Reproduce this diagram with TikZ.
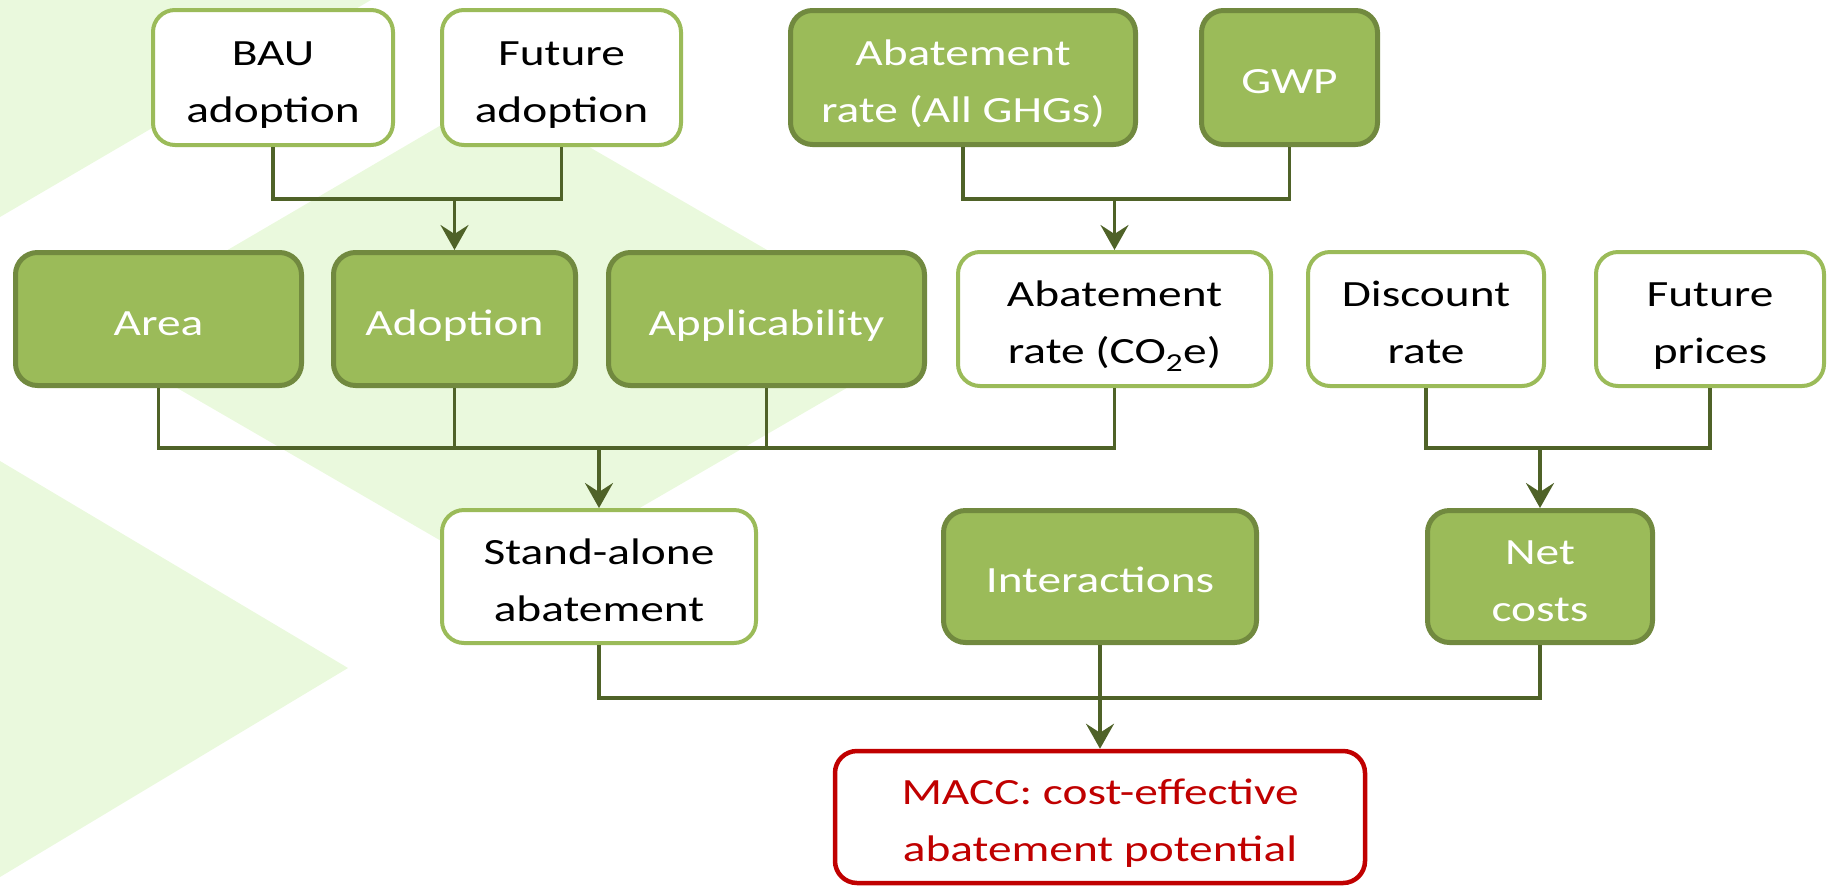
\documentclass[tikz,border=0pt]{standalone}
\usepackage{fontspec}
\setmainfont{Carlito}[FakeStretch=1.28]
\usetikzlibrary{arrows.meta}
\definecolor{bgg}{RGB}{234,249,221}
\definecolor{fgreen}{RGB}{155,187,89}
\definecolor{dborder}{RGB}{113,137,63}
\definecolor{lborder}{RGB}{155,187,89}
\definecolor{conng}{RGB}{79,98,40}
\definecolor{redc}{RGB}{192,0,0}
\newcommand\mystrut{\rule[-8pt]{0pt}{48pt}}
\begin{document}
\begin{tikzpicture}[x=1pt,y=-1pt,
  every node/.style={font=\fontsize{37}{57}\selectfont, align=center, inner sep=0pt, rounded corners=22pt},
  lbox/.style={draw=lborder, line width=4pt, fill=white, text=black},
  dbox/.style={draw=dborder, line width=5pt, fill=fgreen, text=white},
  rbox/.style={draw=redc, line width=4.5pt, fill=white, text=redc},
  conn/.style={draw=conng, line width=3.5pt},
  arr/.style={conn, -{Stealth[length=25pt,width=28pt,inset=9pt]}}]
\useasboundingbox (0,0) rectangle (1829,887);
% background shapes
\fill[bgg] (0,0) -- (371,0) -- (0,217) -- cycle;
\fill[bgg] (84,334) -- (496,93) -- (926,342) -- (512,582) -- cycle;
\fill[bgg] (0,461) -- (348,668) -- (0,877) -- cycle;
% row 1
\node[lbox, minimum width=240pt, minimum height=135pt] (bau) at (273,77.5) {\mystrut BAU\\\mystrut adoption};
\node[lbox, minimum width=239pt, minimum height=135pt] (fut) at (561.5,77.5) {\mystrut Future\\\mystrut adoption};
\node[dbox, minimum width=345pt, minimum height=134pt] (ghg) at (963,77.5) {\mystrut Abatement\\\mystrut rate (All GHGs)};
\node[dbox, minimum width=176pt, minimum height=134pt] (gwp) at (1289.5,77.5) {\mystrut GWP};
% row 2
\node[dbox, minimum width=286pt, minimum height=133pt] (area) at (158.5,319) {\mystrut Area};
\node[dbox, minimum width=242pt, minimum height=133pt] (adop) at (454.5,319) {\mystrut Adoption};
\node[dbox, minimum width=316pt, minimum height=133pt] (appl) at (766.5,319) {\mystrut Applicability};
\node[lbox, minimum width=313pt, minimum height=134pt] (co2) at (1114.5,319) {\mystrut Abatement\\\mystrut rate (CO\textsubscript{2}e)};
\node[lbox, minimum width=236pt, minimum height=134pt] (disc) at (1426,319) {\mystrut Discount\\\mystrut rate};
\node[lbox, minimum width=228pt, minimum height=134pt] (fpr) at (1710,319) {\mystrut Future\\\mystrut prices};
% row 3
\node[lbox, minimum width=314pt, minimum height=133pt] (sa) at (599,576.5) {\mystrut Stand-alone\\\mystrut abatement};
\node[dbox, minimum width=313pt, minimum height=132pt] (inter) at (1100,576.5) {\mystrut Interactions};
\node[dbox, minimum width=225pt, minimum height=132pt] (net) at (1540,576.5) {\mystrut Net\\\mystrut costs};
% row 4
\node[rbox, minimum width=530pt, minimum height=132pt] (macc) at (1100,817) {\mystrut MACC: cost-effective\\\mystrut abatement potential};
% connectors
\coordinate (j1) at (adop.north |- 0,199);
\draw[conn] (bau.south) |- (j1) -| (fut.south);
\draw[arr] (j1) -- (adop.north);
\coordinate (j2) at (co2.north |- 0,199);
\draw[conn] (ghg.south) |- (j2) -| (gwp.south);
\draw[arr] (j2) -- (co2.north);
\coordinate (j3) at (sa.north |- 0,448);
\draw[conn] (area.south) |- (j3) -| (co2.south);
\draw[conn] (adop.south) -- (adop.south |- j3);
\draw[conn] (appl.south) -- (appl.south |- j3);
\draw[arr] (j3) -- (sa.north);
\coordinate (j4) at (net.north |- 0,448);
\draw[conn] (disc.south) |- (j4) -| (fpr.south);
\draw[arr] (j4) -- (net.north);
\coordinate (j5) at (macc.north |- 0,698);
\draw[conn] (sa.south) |- (j5) -| (net.south);
\draw[conn] (inter.south) -- (inter.south |- j5);
\draw[arr] (j5) -- (macc.north);
\end{tikzpicture}
\end{document}
